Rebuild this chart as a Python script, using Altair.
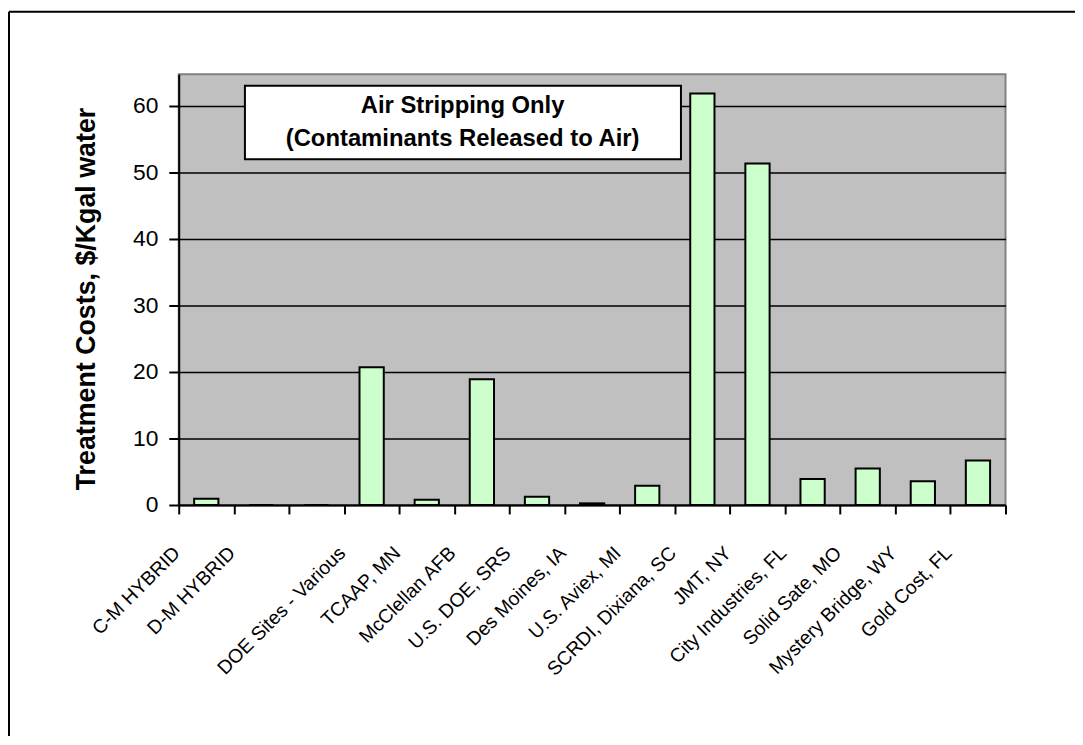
import altair as alt
import pandas as pd

categories = [
    "C-M HYBRID", "D-M HYBRID", " ", "DOE Sites - Various", "TCAAP, MN",
    "McClellan AFB", "U.S. DOE, SRS", "Des Moines, IA", "U.S. Aviex, MI",
    "SCRDI, Dixiana, SC", "JMT, NY", "City Industries, FL", "Solid Sate, MO",
    "Mystery Bridge, WY", "Gold Cost, FL",
]
values = [0.95, 0.0, 0.0, 20.7, 0.8, 18.9, 1.25, 0.25, 2.9, 61.8, 51.3, 3.9, 5.5, 3.55, 6.7]
y_ticks = [0, 10, 20, 30, 40, 50, 60]
y_title = "Treatment Costs, $/Kgal water"
box_lines = ["Air Stripping Only", "(Contaminants Released to Air)"]

FONT = "Liberation Sans, Arial, Helvetica, sans-serif"
W, H = 833, 434

df = pd.DataFrame({"site": categories, "cost": values})
one = pd.DataFrame({"k": [0]})

bars = alt.Chart(df).mark_bar(
    fill="#CCFFCC", stroke="black", strokeWidth=2,
    width=alt.RelativeBandSize(0.44),
).encode(
    x=alt.X(
        "site:N", sort=categories,
        scale=alt.Scale(domain=categories, paddingInner=0, paddingOuter=0),
        axis=alt.Axis(
            title=None, labelAngle=-45, labelAlign="right", labelBaseline="middle",
            labelFontSize=19.5, labelFont=FONT, labelColor="black",
            labelPadding=36, labelOffset=-30, labelOverlap=False,
            tickBand="extent", tickSize=9, tickWidth=2, tickColor="black",
            domainColor="black", domainWidth=2, grid=False,
        ),
    ),
    y=alt.Y(
        "cost:Q",
        scale=alt.Scale(domain=[0, 64.7], nice=False, zero=True),
        axis=alt.Axis(
            values=y_ticks, title=y_title, titleFont=FONT, titleFontSize=27,
            titleFontWeight="bold", titleColor="black", titleAngle=-90,
            titleX=-93, titleY=226, titleAlign="center", titleBaseline="middle",
            labelFont=FONT, labelFontSize=23, labelColor="black", labelPadding=11,
            tickSize=10, tickWidth=2, tickColor="black",
            grid=True, gridColor="black", gridWidth=1.5,
            domainColor="black", domainWidth=2,
        ),
    ),
)

box = alt.Chart(one).mark_rect(fill="white", stroke="black", strokeWidth=2).encode(
    x=alt.value(66.7), x2=alt.value(506), y=alt.value(11.6), y2=alt.value(85.6)
)
line1 = alt.Chart(one).mark_text(
    font=FONT, fontSize=24, fontWeight="bold", color="black", align="center", baseline="middle"
).encode(x=alt.value(286), y=alt.value(32), text=alt.value(box_lines[0]))
line2 = alt.Chart(one).mark_text(
    font=FONT, fontSize=24, fontWeight="bold", color="black", align="center", baseline="middle"
).encode(x=alt.value(286), y=alt.value(65), text=alt.value(box_lines[1]))

frame_top = alt.Chart(one).mark_rule(color="black", strokeWidth=2).encode(
    x=alt.value(-171), x2=alt.value(W + 80), y=alt.value(-63)
)
frame_left = alt.Chart(one).mark_rule(color="black", strokeWidth=2).encode(
    x=alt.value(-171), y=alt.value(-63), y2=alt.value(H + 240)
)

chart = alt.layer(bars, box, line1, line2, frame_top, frame_left).properties(
    width=W, height=H,
    autosize=alt.AutoSizeParams(type="none"),
    padding={"left": 172, "top": 64, "right": 70, "bottom": 230},
    background="white",
).configure_view(fill="#C0C0C0", stroke="#808080", strokeWidth=2)

chart.save("out.html", embed_options={"renderer": "svg", "actions": False})
